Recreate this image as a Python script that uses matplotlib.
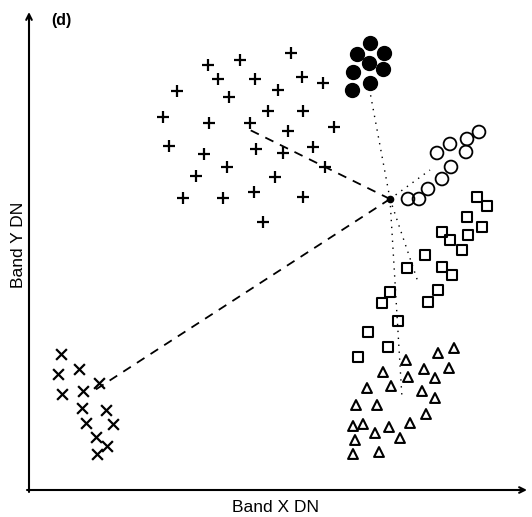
import matplotlib
matplotlib.use("Agg")
import matplotlib.pyplot as plt
import numpy as np

plt.rcParams['font.family'] = ['Liberation Sans', 'DejaVu Sans']

# DN values per class (band X, band Y)
plus_x = [262, 179, 211, 189, 226, 273, 294, 148, 200, 249, 134, 180, 221, 239, 274, 305,
          259, 140, 175, 227, 254, 284, 198, 167, 246, 296, 154, 194, 225, 274, 234]
plus_y = [437, 425, 430, 411, 411, 413, 407, 399, 393, 400, 373, 367, 367, 379, 379, 363,
          359, 344, 336, 341, 337, 343, 323, 314, 313, 323, 292, 292, 298, 293, 268]

dot_x = [341, 328, 355, 340, 354, 324, 341, 323]
dot_y = [447, 436, 437, 427, 421, 418, 407, 400]

circ_x = [450, 438, 421, 437, 408, 422, 413, 399, 390, 379]
circ_y = [358, 351, 346, 338, 337, 323, 311, 301, 291, 291]

sq_x = [448, 458, 438, 453, 439, 413, 421, 433, 413, 423, 396, 378, 409, 399, 361, 353,
        369, 339, 359, 329]
sq_y = [293, 284, 273, 263, 255, 258, 250, 240, 223, 215, 235, 222, 200, 188, 198, 187,
        169, 158, 143, 133]

tri_x = [409, 425, 377, 354, 379, 395, 420, 406, 338, 362, 393, 406, 327, 348, 397, 381,
         324, 334, 346, 360, 371, 326, 324, 350]
tri_y = [137, 142, 130, 118, 113, 121, 122, 112, 102, 104, 99, 92, 85, 85, 76, 67,
         64, 66, 57, 63, 52, 50, 36, 38]

cross_x = [32, 50, 29, 70, 33, 54, 53, 77, 57, 84, 67, 78, 68]
cross_y = [136, 121, 116, 107, 96, 99, 82, 80, 67, 66, 53, 44, 36]

# unknown pixel and the class means it is compared with
unknown = (361, 291)
means_dashed = {'plus': (221, 360), 'cross': (66, 100)}
means_dotted = {'dot': (341, 398), 'circ': (401, 320), 'sq': (389, 208), 'tri': (373, 92)}

fig = plt.figure(figsize=(5.32, 5.17), dpi=100)
ax = fig.add_axes([29 / 532, 27 / 517, 498 / 532, 478 / 517])
ax.set_xlim(0, 498)
ax.set_ylim(0, 478)
ax.axis('off')

ax.scatter(plus_x, plus_y, marker='+', s=75, c='black', linewidths=1.6)
ax.scatter(dot_x, dot_y, marker='o', s=100, c='black')
ax.scatter(circ_x, circ_y, marker='o', s=85, facecolors='none', edgecolors='black', linewidths=1.3)
ax.scatter(sq_x, sq_y, marker='s', s=60, facecolors='none', edgecolors='black', linewidths=1.5)
ax.scatter(tri_x, tri_y, marker='^', s=50, facecolors='none', edgecolors='black', linewidths=1.5)
ax.scatter(cross_x, cross_y, marker='x', s=60, c='black', linewidths=1.6)

for mx, my in means_dashed.values():
    ax.plot([unknown[0], mx], [unknown[1], my], ls=(0, (5, 4)), color='black', lw=1.3)
for mx, my in means_dotted.values():
    ax.plot([unknown[0], mx], [unknown[1], my], ls=(0, (1, 4)), color='black', lw=1.0)
ax.plot(*unknown, marker='o', ms=4.5, color='black')

# axes with open arrow heads
ax.annotate('', xy=(0, 478), xytext=(0, -2), annotation_clip=False,
            arrowprops=dict(arrowstyle='->', color='black', lw=1.5, shrinkA=0, shrinkB=0))
ax.annotate('', xy=(498, 0), xytext=(-2, 0), annotation_clip=False,
            arrowprops=dict(arrowstyle='->', color='black', lw=1.5, shrinkA=0, shrinkB=0))

fig.text(61 / 532, 1 - 20 / 517, '(d)', fontsize=11.5, fontweight='bold', ha='center', va='center')
fig.text(19 / 532, 1 - 245 / 517, 'Band Y DN', fontsize=12.5, rotation=90, ha='center', va='center')
fig.text(275 / 532, 1 - 507 / 517, 'Band X DN', fontsize=12.5, ha='center', va='center')

fig.savefig('out.png', dpi=100)
